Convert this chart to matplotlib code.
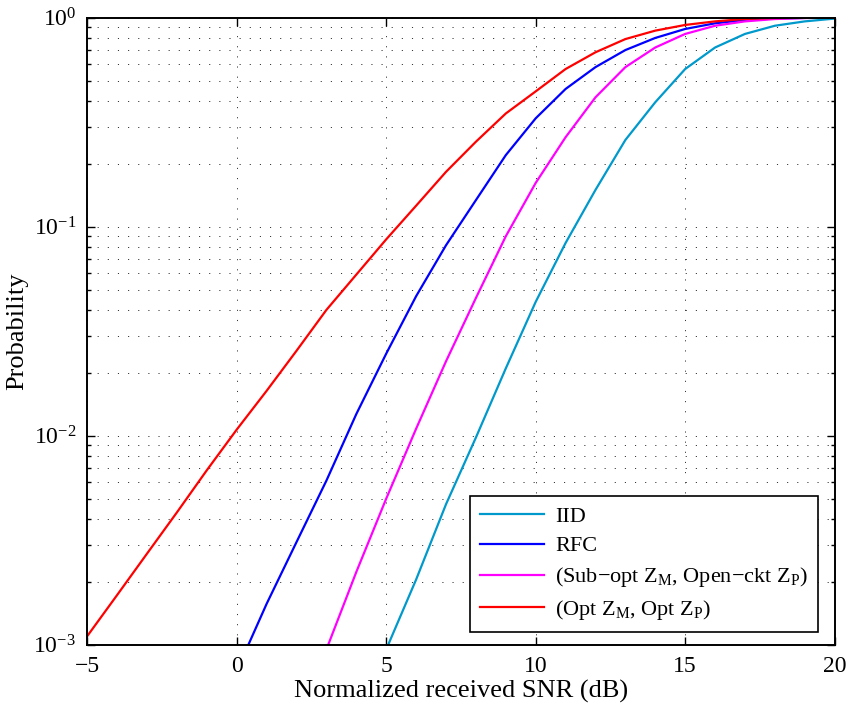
import matplotlib
matplotlib.use("Agg")
import matplotlib.pyplot as plt
import numpy as np

# SNR axis (dB) and the four outage curves
snr_red = [-5, -4, -3, -2, -1, 0, 1, 2, 3, 4, 5, 6, 7, 8, 9, 10,
           11, 12, 13, 14, 15, 16, 17, 18, 19, 20]
p_opt = [1.1e-3, 1.73e-3, 2.73e-3, 4.3e-3, 6.84e-3, 0.0107, 0.0164, 0.0255,
         0.040, 0.059, 0.087, 0.126, 0.183, 0.255, 0.348, 0.444,
         0.568, 0.683, 0.79, 0.867, 0.923, 0.96, 0.986, 0.996, 0.999, 1.0]

snr_blue = [0.39, 1, 2, 3, 4, 5, 6, 7, 8, 9, 10, 11, 12, 13, 14, 15,
            16, 17, 18, 19, 20]
p_rfc = [1.0e-3, 1.57e-3, 3.1e-3, 6.1e-3, 0.0127, 0.0247, 0.0465, 0.0815,
         0.134, 0.22, 0.33, 0.456, 0.58, 0.70, 0.80, 0.883,
         0.94, 0.975, 0.99, 0.997, 1.0]

snr_mag = [3, 4, 5, 6, 7, 8, 9, 10, 11, 12, 13, 14, 15, 16, 17, 18, 19, 20]
p_subopt = [9.5e-4, 2.23e-3, 5.0e-3, 0.0108, 0.0227, 0.0456, 0.090, 0.162,
            0.268, 0.416, 0.58, 0.72, 0.836, 0.915, 0.96, 0.985, 0.996, 1.0]

snr_cyan = [5, 6, 7, 8, 9, 10, 11, 12, 13, 14, 15, 16, 17, 18, 19, 20]
p_iid = [9.5e-4, 2.05e-3, 4.7e-3, 9.8e-3, 0.021, 0.0437, 0.0836, 0.150,
         0.26, 0.394, 0.568, 0.72, 0.836, 0.915, 0.96, 0.99]

labels = ['IID', 'RFC',
          '(Sub\u2212opt Z$_{\\mathrm{M}}$, Open\u2212ckt Z$_{\\mathrm{P}}$)',
          '(Opt Z$_{\\mathrm{M}}$, Opt Z$_{\\mathrm{P}}$)']
colors = ['#0099cc', '#0000ff', '#ff00ff', '#ff0000']

plt.rcParams['font.family'] = ['Liberation Serif', 'DejaVu Serif']
plt.rcParams['mathtext.fontset'] = 'custom'
plt.rcParams['mathtext.rm'] = 'Liberation Serif'
plt.rcParams['mathtext.it'] = 'Liberation Serif:italic'
plt.rcParams['axes.unicode_minus'] = True
plt.rcParams['lines.scale_dashes'] = False

fig = plt.figure(figsize=(8.49, 7.07), dpi=100)
ax = fig.add_axes([0.1028, 0.0881, 0.8803, 0.8869])

series = [(snr_cyan, p_iid), (snr_blue, p_rfc), (snr_mag, p_subopt), (snr_red, p_opt)]
for (x, y), c, lab in zip(series, colors, labels):
    ax.semilogy(x, y, color=c, lw=1.6, label=lab)

ax.set_xlim(-5, 20)
ax.set_ylim(1e-3, 1)
ax.set_xticks([-5, 0, 5, 10, 15, 20])

ax.grid(True, which='major', axis='x', color='#333333', lw=0.7, ls=(0, (0.8, 6.5)))
ax.grid(True, which='both', axis='y', color='#333333', lw=0.7, ls=(0, (0.8, 6.5)))

ax.tick_params(which='both', direction='in', top=True, right=True, labelsize=17, width=1.0)
ax.tick_params(which='major', length=6, pad=8)
ax.tick_params(which='minor', length=3)
for s in ax.spines.values():
    s.set_linewidth(1.4)

ax.set_xlabel('Normalized received SNR (dB)', fontsize=19, labelpad=2)
ax.set_ylabel('Probability', fontsize=19, labelpad=4)

leg = ax.legend(loc='lower right', bbox_to_anchor=(0.978, 0.02), borderaxespad=0,
                fontsize=16, fancybox=False, framealpha=1, edgecolor='black',
                handlelength=2.9, handletextpad=0.5, labelspacing=0.4,
                borderpad=0.45)
leg.get_frame().set_linewidth(1.2)

fig.savefig('out.png', dpi=100)
